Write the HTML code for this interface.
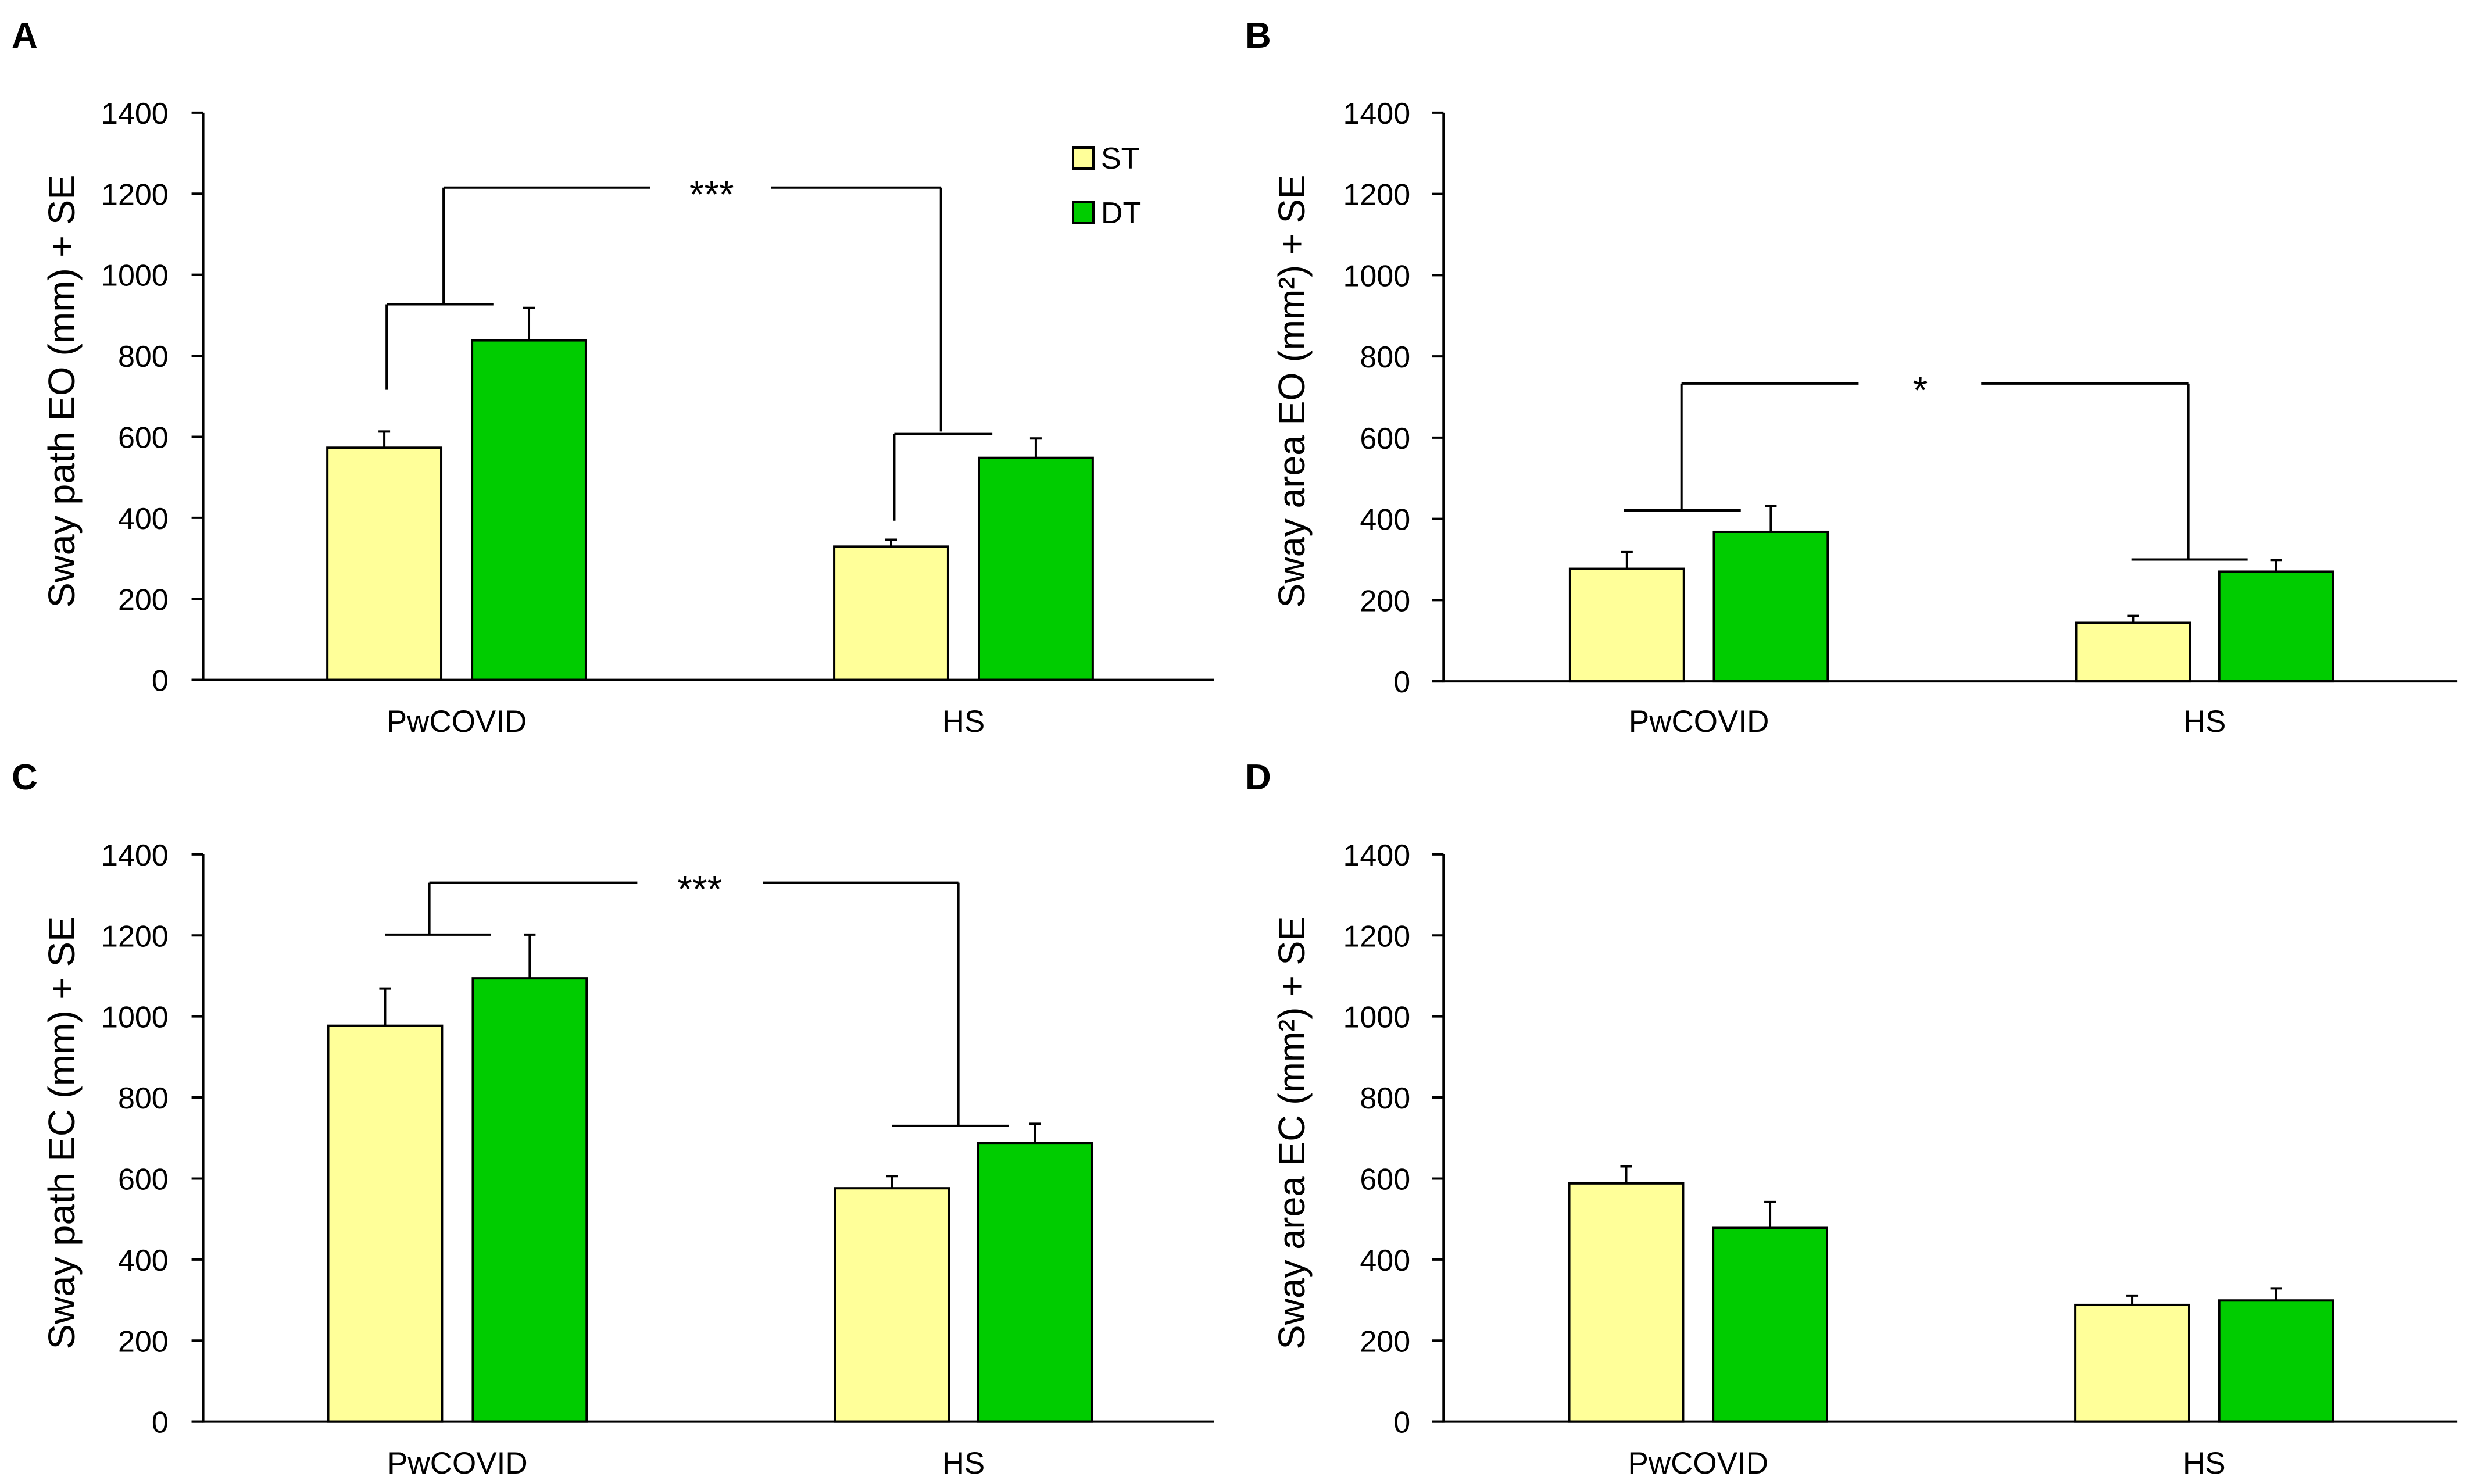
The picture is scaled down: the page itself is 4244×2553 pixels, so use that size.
<!DOCTYPE html>
<html><head><meta charset="utf-8"><style>
html,body{margin:0;padding:0;background:#fff;}
svg{display:block;font-family:"Liberation Sans",sans-serif;}
</style></head><body>
<svg id="fig" xmlns="http://www.w3.org/2000/svg" width="4244" height="2553" viewBox="0 0 4244 2553"></svg>
<script>
// ---- data ----
const categories = ["PwCOVID", "HS"];
const seriesNames = ["ST", "DT"];
const yTicks = [0, 200, 400, 600, 800, 1000, 1200, 1400];
const panelLetters = ["A", "B", "C", "D"];
const yTitles = ["Sway path EO (mm) + SE", "Sway area EO (mm²) + SE", "Sway path EC (mm) + SE", "Sway area EC (mm²) + SE"];
const stA = [573, 329], dtA = [838, 548], stErrA = [613, 346], dtErrA = [918, 596];
const stB = [277, 144], dtB = [368, 270], stErrB = [318, 161], dtErrB = [431, 299];
const stC = [977, 576], dtC = [1094, 688], stErrC = [1069, 606], dtErrC = [1202, 735];
const stD = [588, 288], dtD = [478, 299], stErrD = [630, 311], dtErrD = [542, 329];
const sigA = ["***"], sigB = ["*"], sigC = ["***"], sigD = [];

const NS = "http://www.w3.org/2000/svg";
const svg = document.getElementById("fig");
const SX = 2122/1560, SY = 1276/1560;
function mk(tag, attrs, parent){ const e=document.createElementNS(NS,tag); for(const k in attrs) e.setAttribute(k,attrs[k]); (parent||svg).appendChild(e); return e; }

const panels = [
 {ox:0, oy:0, ax:257, y0:1430, yt:237, xe:1535, tickEnd:213, cx:[[486,669],[1127,1310]], hw:72, st:stA, dt:dtA, se:stErrA, de:dtErrA, sig:sigA, legend:true,
  br:{lv:[489,716,927], lh:[489,624,927], tv:[561,927,1215], th:[561,822,975,1190,900], rv:[1190,1215,613], hh:[1131,1255,607], hv:[1131,607,393]}},
 {ox:2116, oy:0, ax:270, y0:1433, yt:237, xe:1552, tickEnd:228, cx:[[502,684],[1142,1323]], hw:72, st:stB, dt:dtB, se:stErrB, de:dtErrB, sig:sigB,
  br:{lh:[498,646,421], tv:[571,421,733], th:[571,795,950,1212,873], rv:[1212,733,300], hh:[1140,1287,300]}},
 {ox:0, oy:1276, ax:257, y0:1430, yt:237, xe:1535, tickEnd:213, cx:[[487,670],[1128,1309]], hw:72, st:stC, dt:dtC, se:stErrC, de:dtErrC, sig:sigC,
  br:{lh:[487,621,1202], tv:[543,1202,1330], th:[543,806,965,1212,885], rv:[1212,1330,730], hh:[1128,1276,730]}},
 {ox:2116, oy:1276, ax:270, y0:1430, yt:237, xe:1552, tickEnd:228, cx:[[501,683],[1141,1323]], hw:72, st:stD, dt:dtD, se:stErrD, de:dtErrD, sig:sigD, br:null}
];
const colors = ["#FFFF99", "#00CC00"];

panels.forEach((p, i) => {
  const g = mk("g", {});
  
  
  const X = zx => p.ox + zx*SX;
  const yPix0 = p.oy + p.y0*SY, yPixT = p.oy + p.yt*SY;
  const Y = v => yPix0 - (v/1400)*(yPix0 - yPixT);
  const line = (x1,y1,x2,y2,name) => { const l = mk("line",{x1,y1,x2,y2,stroke:"#000","stroke-width":4},g);   return l; };

  const lt = mk("text",{x:(i%2? 2142:20), y:p.oy+82, "font-size":62, "font-weight":"bold"},g);
  lt.textContent = panelLetters[i];
  
  

  line(X(p.ax), Y(0)+2, X(p.ax), Y(1400), 'y-axis');
  yTicks.forEach(t => {
    line(X(p.ax)-20, Y(t), X(p.ax), Y(t), 'y-tick');
    const tx = mk("text",{x:X(p.tickEnd), y:Y(t)+19, "font-size":52, "text-anchor":"end"},g);
    tx.textContent = t;
    
    
  });
  const ycx = p.ox + 106, ycy = p.oy + 673;
  const yt = mk("text",{x:ycx, y:ycy, "font-size":64, "text-anchor":"middle", transform:`rotate(-90 ${ycx} ${ycy})`, textLength:745, lengthAdjust:"spacingAndGlyphs", dy:22},g);
  yt.textContent = yTitles[i];
  
  

  categories.forEach((c, ci) => {
    [p.st, p.dt].forEach((arr, si) => {
      const errArr = si===0 ? p.se : p.de;
      const cxp = X(p.cx[ci][si]), w = p.hw*SX*2;
      const top = Y(arr[ci]);
      line(cxp, top, cxp, Y(errArr[ci]), 'error-bar');
      line(cxp-10, Y(errArr[ci]), cxp+10, Y(errArr[ci]), 'error-cap');
      const r = mk("rect",{x:cxp-w/2, y:top, width:w, height:Y(0)-top, fill:colors[si], stroke:"#000","stroke-width":4},g);
      
      
    });
    const cl = mk("text",{x:X((p.cx[ci][0]+p.cx[ci][1])/2), y:p.oy+1259, "font-size":53, "text-anchor":"middle"},g);
    cl.textContent = c;
    
    
  });
  line(X(p.ax)-20, Y(0), X(p.xe), Y(0), 'x-axis');

  if (p.br) {
    const b = p.br;
    if (b.lv) line(X(b.lv[0]), Y(b.lv[1]), X(b.lv[0]), Y(b.lv[2]), 'bracket');
    line(X(b.lh[0]), Y(b.lh[2]), X(b.lh[1]), Y(b.lh[2]), 'bracket');
    line(X(b.tv[0]), Y(b.tv[1]), X(b.tv[0]), Y(b.tv[2]), 'bracket');
    const ty = Y(b.tv[2]);
    line(X(b.th[0]), ty, X(b.th[1]), ty, 'bracket');
    line(X(b.th[2]), ty, X(b.th[3]), ty, 'bracket');
    const st = mk("text",{x:X(b.th[4]), y:ty+34, "font-size":66, "text-anchor":"middle"},g);
    st.textContent = p.sig[0];
    
    
    line(X(b.rv[0]), Y(b.rv[1]), X(b.rv[0]), Y(b.rv[2]), 'bracket');
    line(X(b.hh[0]), Y(b.hh[2]), X(b.hh[1]), Y(b.hh[2]), 'bracket');
    if (b.hv) line(X(b.hv[0]), Y(b.hv[1]), X(b.hv[0]), Y(b.hv[2]), 'bracket');
  }

  if (p.legend) {
    seriesNames.forEach((s, si) => {
      const yTop = si===0 ? 254 : 348;
      const r = mk("rect",{x:1846, y:yTop, width:35, height:36, fill:colors[si], stroke:"#000","stroke-width":4},g);
      
      
      const t = mk("text",{x:1894, y:yTop+36, "font-size":52},g);
      t.textContent = s;
      
      
    });
  }
});
</script>
</body></html>
